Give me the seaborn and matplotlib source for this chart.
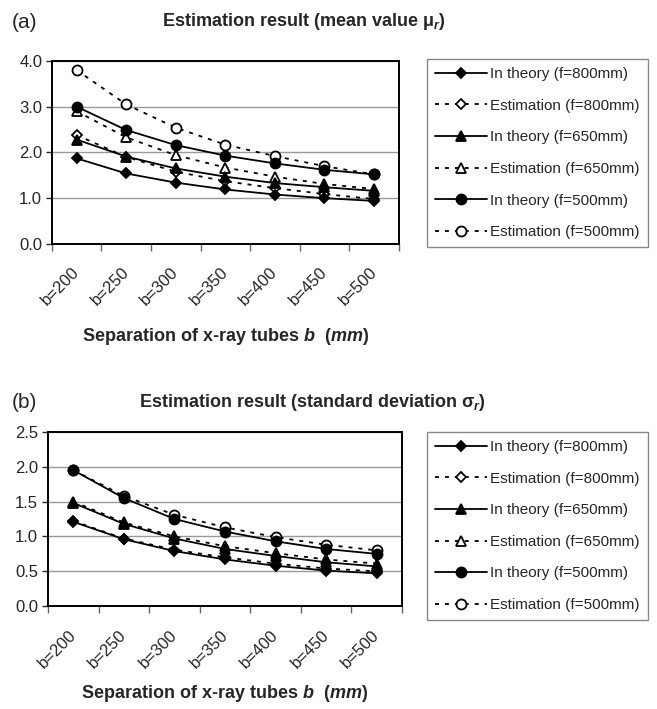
import numpy as np
import pandas as pd
import matplotlib
matplotlib.use("Agg")
import matplotlib.pyplot as plt
import matplotlib.transforms as mtransforms
import seaborn as sns

# --- data ---
categories = ["b=200", "b=250", "b=300", "b=350", "b=400", "b=450", "b=500"]

# (a) mean value mu_r
mean_theory_800 = [1.87, 1.54, 1.34, 1.19, 1.08, 1.00, 0.94]
mean_est_800 = [2.38, 1.90, 1.58, 1.37, 1.22, 1.09, 0.98]
mean_theory_650 = [2.28, 1.91, 1.65, 1.47, 1.33, 1.24, 1.16]
mean_est_650 = [2.90, 2.33, 1.94, 1.67, 1.47, 1.31, 1.20]
mean_theory_500 = [3.00, 2.49, 2.16, 1.93, 1.76, 1.62, 1.52]
mean_est_500 = [3.80, 3.05, 2.54, 2.17, 1.92, 1.70, 1.52]

# (b) standard deviation sigma_r
sd_theory_800 = [1.21, 0.96, 0.79, 0.67, 0.58, 0.51, 0.47]
sd_est_800 = [1.22, 0.97, 0.81, 0.70, 0.61, 0.54, 0.50]
sd_theory_650 = [1.48, 1.18, 0.97, 0.82, 0.72, 0.63, 0.57]
sd_est_650 = [1.50, 1.20, 1.00, 0.86, 0.76, 0.67, 0.61]
sd_theory_500 = [1.95, 1.55, 1.25, 1.07, 0.93, 0.82, 0.75]
sd_est_500 = [1.95, 1.58, 1.31, 1.13, 0.99, 0.88, 0.80]

legend_labels = ["In theory (f=800mm)", "Estimation (f=800mm)",
                 "In theory (f=650mm)", "Estimation (f=650mm)",
                 "In theory (f=500mm)", "Estimation (f=500mm)"]

sns.set_theme(style="white")
plt.rcParams['font.family'] = ['Liberation Sans', 'DejaVu Sans']
plt.rcParams['mathtext.fontset'] = 'custom'
plt.rcParams['mathtext.it'] = 'Liberation Sans:italic:bold'
plt.rcParams['mathtext.rm'] = 'Liberation Sans:bold'
plt.rcParams['mathtext.bf'] = 'Liberation Sans:bold'

fig = plt.figure(figsize=(6.57, 7.09), dpi=100)
ax_a = fig.add_axes([0.079, 0.656, 0.528, 0.258])
ax_b = fig.add_axes([0.073, 0.145, 0.539, 0.246])

x_pos = np.arange(len(categories))
markers = ["D", "D", "^", "^", "o", "o"]
sizes = [5.2, 5.2, 7, 7, 7.2, 7.2]


def draw_panel(ax, series, ymax, ystep):
    for i, vals in enumerate(series):
        theory = (i % 2 == 0)
        df = pd.DataFrame({"x": x_pos, "y": vals})
        sns.lineplot(data=df, x="x", y="y", ax=ax, color="black",
                     linewidth=1.3, marker=markers[i], markersize=sizes[i],
                     markerfacecolor="black" if theory else "white",
                     markeredgecolor="black", markeredgewidth=1.3,
                     linestyle="-" if theory else (0, (2.2, 3.3)),
                     label=legend_labels[i], zorder=4 if theory else 3)
    ax.set_xlim(-0.5, len(categories) - 0.5)
    ax.set_ylim(0, ymax)
    ax.set_yticks(np.arange(0, ymax + 0.01, ystep))
    ax.set_yticklabels([f"{v:.1f}" for v in np.arange(0, ymax + 0.01, ystep)])
    # excel-style category axis: tick marks between categories
    ax.set_xticks(np.arange(-0.5, len(categories), 1.0))
    ax.set_xticklabels([])
    ax.set_xticks(x_pos, minor=True)
    ax.set_xticklabels(categories, minor=True, rotation=45, ha="right",
                       va="top", rotation_mode="anchor")
    ax.tick_params(axis="x", which="minor", length=0, pad=15, labelsize=12)
    ax.tick_params(axis="x", which="major", direction="out", length=5,
                   width=1, color="#666666", bottom=True)
    ax.tick_params(axis="y", direction="out", length=4, width=1,
                   left=True, labelsize=12, pad=3)
    for lbl in ax.get_xticklabels(minor=True):
        lbl.set_transform(lbl.get_transform() +
                          mtransforms.ScaledTranslation(-0.05, 0, fig.dpi_scale_trans))
    ax.yaxis.grid(True, color="#999999", linewidth=1)
    ax.set_axisbelow(True)
    for sp in ax.spines.values():
        sp.set_color("black")
        sp.set_linewidth(1.4)
    ax.set_xlabel("")
    ax.set_ylabel("")


draw_panel(ax_a, [mean_theory_800, mean_est_800, mean_theory_650,
                  mean_est_650, mean_theory_500, mean_est_500], 4.0, 1.0)
draw_panel(ax_b, [sd_theory_800, sd_est_800, sd_theory_650,
                  sd_est_650, sd_theory_500, sd_est_500], 2.5, 0.5)

for ax, top in [(ax_a, 0.917), (ax_b, 0.391)]:
    leg = ax.legend(loc="upper left", bbox_to_anchor=(0.65, top),
                    bbox_transform=fig.transFigure, borderaxespad=0,
                    fontsize=11, handlelength=3.4, handletextpad=0.15,
                    labelspacing=1.15, borderpad=0.55, fancybox=False,
                    frameon=True, framealpha=1)
    leg.get_frame().set_edgecolor("#888888")
    leg.get_frame().set_linewidth(1)

fig.text(0.018, 0.968, "(a)", fontsize=15, va="center", ha="left")
fig.text(0.462, 0.970, "Estimation result (mean value μ$_r$)", fontsize=13,
         fontweight="bold", ha="center", va="center")
fig.text(0.018, 0.433, "(b)", fontsize=15, va="center", ha="left")
fig.text(0.475, 0.433, "Estimation result (standard deviation σ$_r$)", fontsize=13,
         fontweight="bold", ha="center", va="center")

xlab = "Separation of x-ray tubes $b$  ($mm$)"
fig.text(0.344, 0.525, xlab, fontsize=13, fontweight="bold", ha="center", va="center")
fig.text(0.342, 0.022, xlab, fontsize=13, fontweight="bold", ha="center", va="center")

fig.savefig("out.png", dpi=100, facecolor="white")
